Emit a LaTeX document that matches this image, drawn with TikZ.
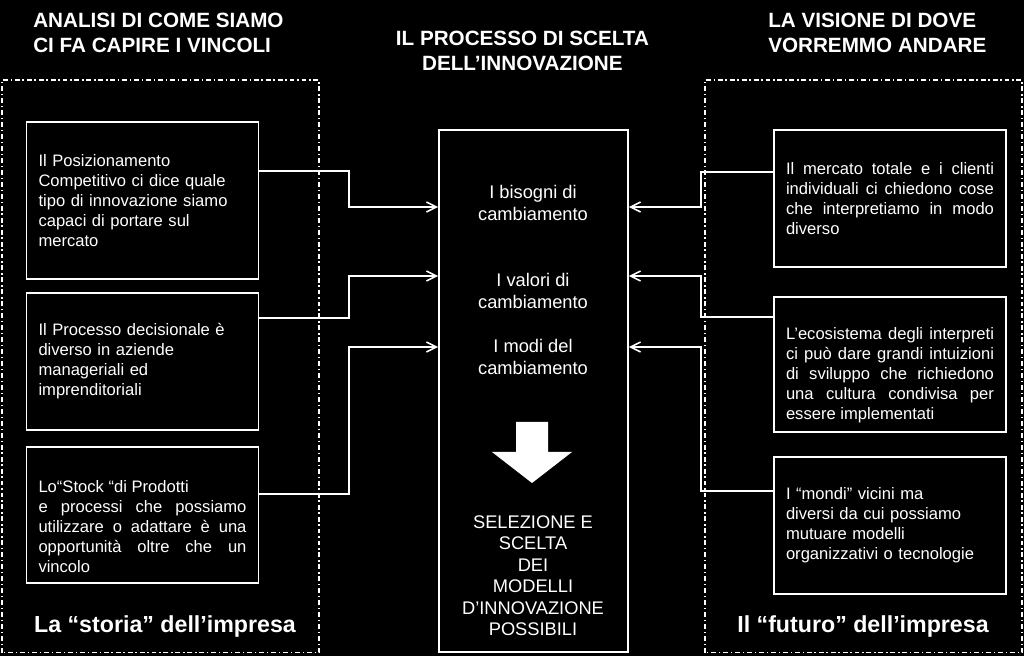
\documentclass[tikz,border=0pt]{standalone}
\usepackage{fontspec}
\setmainfont{Liberation Sans}
\usetikzlibrary{positioning,arrows.meta,calc}
\definecolor{bgblack}{HTML}{000000}
\definecolor{lnwhite}{HTML}{FFFFFF}

\begin{document}
\begin{tikzpicture}[
      font=\fontsize{11.8}{14.2}\selectfont, text=lnwhite,
      card/.style={draw=lnwhite, line width=1.2pt, text width=5.2cm, minimum width=5.8cm,
                   inner xsep=0pt, align=left},
      jcard/.style={card, align=justify},
      proc/.style={draw=lnwhite, line width=1.2pt, minimum width=4.725cm, minimum height=13.05cm},
      zone/.style={draw=lnwhite, line width=0.9pt, dash pattern=on 3.5pt off 2pt on 1pt off 2pt},
      head/.style={font=\fontsize{14.7}{17.7}\selectfont\bfseries, inner sep=0pt},
      foot/.style={font=\fontsize{16.5}{19}\selectfont\bfseries, inner sep=0pt, anchor=base},
      mid/.style={font=\fontsize{13}{15.3}\selectfont, align=center, inner sep=0pt},
      arr/.style={-{Straight Barb[length=2.5mm,width=2.5mm]}, line width=1.1pt, draw=lnwhite}
    ]
    \fill[bgblack] (0,0) rectangle (25.6,16.4);

    % titles
    \node[head, anchor=west, align=left] (tl) at (0.825,15.5875) {ANALISI DI COME SIAMO\\CI FA CAPIRE I VINCOLI};
    \node[head, align=center] (tc) at (13.06,15.1375) {IL PROCESSO DI SCELTA\\DELL’INNOVAZIONE};
    \node[head, anchor=west, align=left] (tr) at (19.2,15.5875) {LA VISIONE DI DOVE\\VORREMMO ANDARE};

    % zones
    \draw[zone] (0.05,0.08) rectangle (7.975,14.4);
    \draw[zone] (17.625,0.08) rectangle (25.55,14.4);
    \node[foot] (fl) at (4.125,0.575) {La “storia” dell’impresa};
    \node[foot] (fr) at (21.575,0.575) {Il “futuro” dell’impresa};

    % left: history
    \node[card, minimum height=3.925cm] (pos) at (3.5625,11.3875)
      {Il Posizionamento\\Competitivo ci dice quale\\tipo di innovazione siamo\\capaci di portare sul\\mercato};
    \node[card, minimum height=3.425cm] (dec) at (3.5625,7.3625)
      {Il Processo decisionale è\\diverso in aziende\\manageriali ed\\imprenditoriali};
    \node[jcard, minimum height=3.4cm, text height=9mm] (stock) at (3.5625,3.525)
      {Lo“Stock “di Prodotti\\e processi che possiamo\linebreak utilizzare o adattare è una\linebreak
       opportunità oltre che un\linebreak vincolo};

    % centre: process
    \node[proc] (proc) at (13.3375,6.625) {};
    \node[mid] (need) at (13.325,11.325) {I bisogni di\\cambiamento};
    \node[mid] (val) at (13.325,9.125) {I valori di\\cambiamento};
    \node[mid] (way) at (13.325,7.475) {I modi del\\cambiamento};
    \fill[lnwhite] (12.9,5.85) -- (13.7,5.85) -- (13.7,5.1) -- (14.3,5.1) -- (13.3,4.325)
      -- (12.3,5.1) -- (12.9,5.1) -- cycle;
    \node[mid] (sel) at (13.325,2.0125)
      {SELEZIONE E\\SCELTA\\DEI\\MODELLI\\D’INNOVAZIONE\\POSSIBILI};

    % right: future
    \node[jcard, minimum height=3.425cm] (mkt) at (22.25,11.4375)
      {Il mercato totale e i clienti\linebreak individuali ci chiedono cose\linebreak
       che interpretiamo in modo\linebreak diverso};
    \node[jcard, minimum height=3.375cm, text height=8.5mm] (eco) at (22.25,7.2875)
      {L’ecosistema degli interpreti\linebreak ci può dare grandi intuizioni\linebreak
       di sviluppo che richiedono\linebreak una cultura condivisa per\linebreak essere implementati};
    \node[card, minimum height=3.425cm] (worlds) at (22.25,3.2625)
      {I “mondi” vicini ma\\diversi da cui possiamo\\mutuare modelli\\organizzativi o tecnologie};

    % connectors
    \coordinate (jl) at (8.725,0);
    \coordinate (jr) at (17.525,0);
    \coordinate (in1) at (proc.west |- 0,11.225);
    \coordinate (in2) at (proc.west |- 0,9.5);
    \coordinate (in3) at (proc.west |- 0,7.725);
    \coordinate (out1) at (proc.east |- 0,11.225);
    \coordinate (out2) at (proc.east |- 0,9.5);
    \coordinate (out3) at (proc.east |- 0,7.725);
    \draw[arr] (pos.east |- 0,12.125) -| (jl |- in1) -- (in1);
    \draw[arr] (dec.east |- 0,8.45) -| (jl |- in2) -- (in2);
    \draw[arr] (stock.east |- 0,4.05) -| (jl |- in3) -- (in3);
    \draw[arr] (mkt.west |- 0,12.1) -| (jr |- out1) -- (out1);
    \draw[arr] (eco.west |- 0,8.475) -| (jr |- out2) -- (out2);
    \draw[arr] (worlds.west |- 0,4.125) -| (jr |- out3) -- (out3);
  \end{tikzpicture}
\end{document}
